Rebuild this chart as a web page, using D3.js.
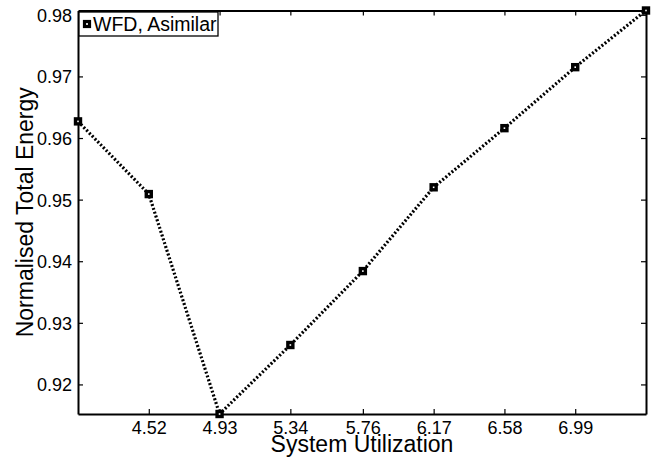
<!DOCTYPE html>
<html><head><meta charset="utf-8">
<script src="https://cdn.jsdelivr.net/npm/d3@7"></script>
<style>body{margin:0;background:#fff}svg{display:block}text{font-family:"Liberation Sans",Arial,Helvetica,sans-serif;fill:#000}</style>
</head><body><svg id="c" width="659" height="461"></svg>
<script>
const xValues = [4.11, 4.52, 4.93, 5.34, 5.76, 6.17, 6.58, 6.99, 7.40];
const yValues = [0.9627, 0.9509, 0.9152, 0.9264, 0.9384, 0.9520, 0.9616, 0.9715, 0.9807];
const xTicks = [4.52, 4.93, 5.34, 5.76, 6.17, 6.58, 6.99];
const yTicks = [0.92, 0.93, 0.94, 0.95, 0.96, 0.97, 0.98];
const seriesName = "WFD, Asimilar";

const svg = d3.select("#c");
const L = 78, R = 646, T = 10.5, B = 414;
const x = d3.scaleLinear().domain([4.11, 7.40]).range([L, R]);
const y = d3.scaleLinear().domain([0.9152, 0.9807]).range([B, T]);

const fs = "18px";
const gB = svg.append("g").attr("transform", `translate(0,${B})`)
  .call(d3.axisBottom(x).tickValues(xTicks).tickFormat(d3.format(".2f")).tickSizeInner(-5).tickSizeOuter(0).tickPadding(7));
const gT = svg.append("g").attr("transform", `translate(0,${T})`)
  .call(d3.axisTop(x).tickValues(xTicks).tickFormat("").tickSizeInner(-5).tickSizeOuter(0));
const gL = svg.append("g").attr("transform", `translate(${L},0)`)
  .call(d3.axisLeft(y).tickValues(yTicks).tickFormat(d3.format(".2f")).tickSizeInner(-5).tickSizeOuter(0).tickPadding(6));
const gR = svg.append("g").attr("transform", `translate(${R},0)`)
  .call(d3.axisRight(y).tickValues(yTicks).tickFormat("").tickSizeInner(-5).tickSizeOuter(0));
[gB, gT, gL, gR].forEach(g => {
  g.select(".domain").attr("stroke", "#000").attr("stroke-width", 2);
  g.selectAll(".tick line").attr("stroke", "#000").attr("stroke-width", 1.2);
  g.selectAll(".tick text").style("font-size", fs).style("font-family", '"Liberation Sans",Arial,sans-serif').attr("fill", "#000");
});
gB.selectAll(".tick text").attr("dy", "0.72em");
gL.selectAll(".tick text").attr("dy", "0.36em");

const line = d3.line().x((d, i) => x(xValues[i])).y(d => y(d));
svg.append("path").datum(yValues).attr("d", line)
  .attr("fill", "none").attr("stroke", "#000").attr("stroke-width", 3.2)
  .attr("stroke-dasharray", "2,2");

svg.append("g").selectAll("rect").data(yValues).join("rect")
  .attr("x", (d, i) => x(xValues[i]) - 2.5).attr("y", d => y(d) - 2.5)
  .attr("width", 5).attr("height", 5)
  .attr("fill", "#fff").attr("stroke", "#000").attr("stroke-width", 3.4);

svg.append("text").attr("x", (L + R) / 2).attr("y", 452).attr("text-anchor", "middle")
  .style("font-size", "23px").text("System Utilization");
svg.append("text").attr("transform", `translate(33,${(T + B) / 2}) rotate(-90)`).attr("text-anchor", "middle")
  .style("font-size", "23px").text("Normalised Total Energy");

svg.append("rect").attr("x", 79).attr("y", 12).attr("width", 139).attr("height", 24)
  .attr("fill", "#fff").attr("stroke", "#000").attr("stroke-width", 1.3);
svg.append("rect").attr("x", 84.5).attr("y", 21.5).attr("width", 5).attr("height", 5)
  .attr("fill", "#fff").attr("stroke", "#000").attr("stroke-width", 3.2);
svg.append("text").attr("x", 93).attr("y", 31).style("font-size", "19.5px").text(seriesName);
</script></body></html>
